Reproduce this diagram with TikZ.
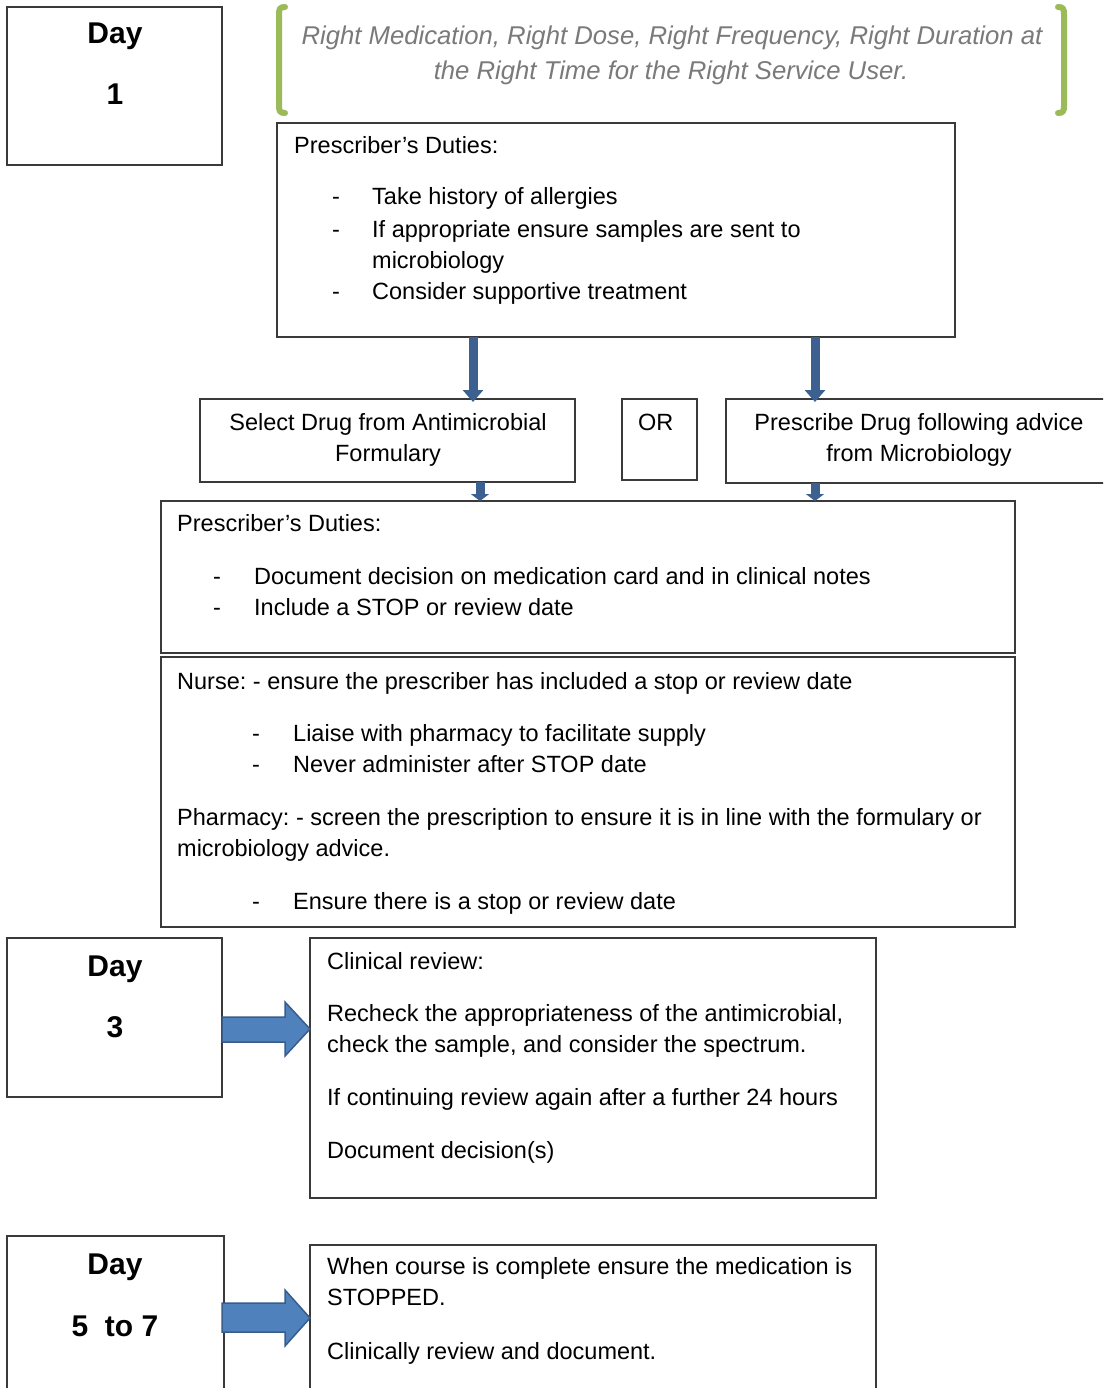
\documentclass[tikz,border=0pt]{standalone}
\usepackage{fontspec}
\setmainfont{Liberation Sans}
\usetikzlibrary{arrows.meta,calc}
\definecolor{framegray}{HTML}{3A3A3A}
\definecolor{downblue}{HTML}{3C6090}
\definecolor{blockfill}{HTML}{4F81BD}
\definecolor{blockedge}{HTML}{385D8A}
\definecolor{bracketgreen}{HTML}{9BBB59}
\definecolor{mottogray}{HTML}{7A7A7A}
\frenchspacing

\begin{document}
\begin{tikzpicture}[x=1pt,y=-1pt,
  box/.style={draw=framegray, line width=1.4pt, anchor=north west, inner sep=0pt, outer sep=0pt},
  txt/.style={anchor=base west, inner sep=0pt, font=\fontsize{23.5}{31}\selectfont},
  ctxt/.style={anchor=base, inner sep=0pt, font=\fontsize{23.5}{31}\selectfont},
  daytxt/.style={anchor=base, inner sep=0pt, font=\fontsize{30}{36}\selectfont\bfseries},
  downarrow/.style={draw=downblue, line width=9pt, -{Triangle[width=20pt,length=12pt]}},
  smallarrow/.style={draw=downblue, line width=9pt, -{Triangle[width=18pt,length=7pt]}},
  blockarrow/.style={fill=blockfill, draw=blockedge, line width=1.5pt, line join=miter},
  bracket/.style={draw=bracketgreen, line width=6pt, line cap=round},
  motto/.style={anchor=base, inner sep=0pt, text=mottogray, font=\fontsize{25.7}{31}\selectfont\itshape}
]
\useasboundingbox (0,0) rectangle (1103,1388);
\clip (0,0) rectangle (1103,1388);
\fill[white] (0,0) rectangle (1103,1388);

% ---- frames ----
\node[box, minimum width=215, minimum height=158] (day1) at (7,7) {};
\node[box, minimum width=678, minimum height=214] (pd1) at (277,123) {};
\node[box, minimum width=375, minimum height=83] (sel) at (200,399) {};
\node[box, minimum width=75, minimum height=81] (orbox) at (622,399) {};
\node[box, minimum width=400, minimum height=84] (micro) at (726,399) {};
\node[box, minimum width=854, minimum height=152] (pd2) at (161,501) {};
\node[box, minimum width=854, minimum height=270] (nurse) at (161,657) {};
\node[box, minimum width=215, minimum height=159] (day3) at (7,938) {};
\node[box, minimum width=566, minimum height=260] (rev) at (310,938) {};
\node[box, minimum width=217, minimum height=200] (day5) at (7,1236) {};
\node[box, minimum width=566, minimum height=200] (stop) at (310,1245) {};

% ---- motto with green brackets ----
\draw[bracket] (285,7) .. controls (280,7) and (279,9) .. (279,14) -- (279,106) .. controls (279,111) and (280,113) .. (285,113);
\draw[bracket] (1058,7) .. controls (1063,7) and (1064,9) .. (1064,14) -- (1064,106) .. controls (1064,111) and (1063,113) .. (1058,113);
\node[motto] (m1) at (672,45) {Right Medication, Right Dose, Right Frequency, Right Duration at};
\node[motto] (m2) at (671,80) {the Right Time for the Right Service User.};

% ---- day labels ----
\node[daytxt] (d1a) at (115,44) {Day};
\node[daytxt] (d1b) at (115,105) {1};
\node[daytxt] (d3a) at (115,976) {Day};
\node[daytxt] (d3b) at (115,1037) {3};
\node[daytxt] (d5a) at (115,1274) {Day};
\node[daytxt] (d5b) at (115,1336) {5\ \ to 7};

% ---- prescriber's duties (first) ----
\node[txt] (p1) at (294,154) {Prescriber’s Duties:};
\node[txt] (p1d1) at (332,205) {-};
\node[txt] (p1t1) at (372,205) {Take history of allergies};
\node[txt] (p1d2) at (332,237) {-};
\node[txt] (p1t2) at (372,237) {If appropriate ensure samples are sent to};
\node[txt] (p1t3) at (372,268) {microbiology};
\node[txt] (p1d4) at (332,299) {-};
\node[txt] (p1t4) at (372,299) {Consider supportive treatment};

% ---- choice ----
\node[ctxt] (s1) at (388,430) {Select Drug from Antimicrobial};
\node[ctxt] (s2) at (388,461) {Formulary};
\node[txt] (or) at (638,430) {OR};
\node[ctxt] (mi1) at (919,430) {Prescribe Drug following advice};
\node[ctxt] (mi2) at (919,461) {from Microbiology};

% ---- prescriber's duties (second) ----
\node[txt] (p2) at (177,531) {Prescriber’s Duties:};
\node[txt] (p2d1) at (213,584) {-};
\node[txt] (p2t1) at (254,584) {Document decision on medication card and in clinical notes};
\node[txt] (p2d2) at (213,615) {-};
\node[txt] (p2t2) at (254,615) {Include a STOP or review date};

% ---- nurse / pharmacy ----
\node[txt] (n0) at (177,689) {Nurse: - ensure the prescriber has included a stop or review date};
\node[txt] (nd1) at (252,741) {-};
\node[txt] (nt1) at (293,741) {Liaise with pharmacy to facilitate supply};
\node[txt] (nd2) at (252,772) {-};
\node[txt] (nt2) at (293,772) {Never administer after STOP date};
\node[txt] (ph1) at (177,825) {Pharmacy: - screen the prescription to ensure it is in line with the formulary or};
\node[txt] (ph2) at (177,856) {microbiology advice.};
\node[txt] (phd) at (252,909) {-};
\node[txt] (pht) at (293,909) {Ensure there is a stop or review date};

% ---- clinical review ----
\node[txt] (r1) at (327,969) {Clinical review:};
\node[txt] (r2) at (327,1021) {Recheck the appropriateness of the antimicrobial,};
\node[txt] (r3) at (327,1052) {check the sample, and consider the spectrum.};
\node[txt] (r4) at (327,1105) {If continuing review again after a further 24 hours};
\node[txt] (r5) at (327,1158) {Document decision(s)};

% ---- stop ----
\node[txt] (st1) at (327,1274) {When course is complete ensure the medication is};
\node[txt] (st2) at (327,1305) {STOPPED.};
\node[txt] (st3) at (327,1359) {Clinically review and document.};

% ---- connectors ----
\coordinate (xa) at (473,0);
\coordinate (xb) at (815,0);
\coordinate (xc) at (480,0);
\draw[downarrow] (pd1.south -| xa) -- ([yshift=-3pt]sel.north -| xa);
\draw[downarrow] (pd1.south -| xb) -- ([yshift=-3pt]micro.north -| xb);
\draw[smallarrow] (sel.south -| xc) -- (pd2.north -| xc);
\draw[smallarrow] (micro.south -| xb) -- (pd2.north -| xb);

% block arrows from the day frames to their text frames
\coordinate (tip3) at ($(rev.north west)+(0,91)$);
\draw[blockarrow] (tip3) -- ++(-25,-27) -- ++(0,15) -- (day3.east |- {0,1017}) -- ++(0,25) -- ++(63,0) -- ++(0,14) -- cycle;
\coordinate (tip5) at ($(stop.north west)+(0,73)$);
\draw[blockarrow] (tip5) -- ++(-25,-28) -- ++(0,13) -- ++(-63,0) -- ++(0,29) -- ++(63,0) -- ++(0,14) -- cycle;
\end{tikzpicture}
\end{document}
